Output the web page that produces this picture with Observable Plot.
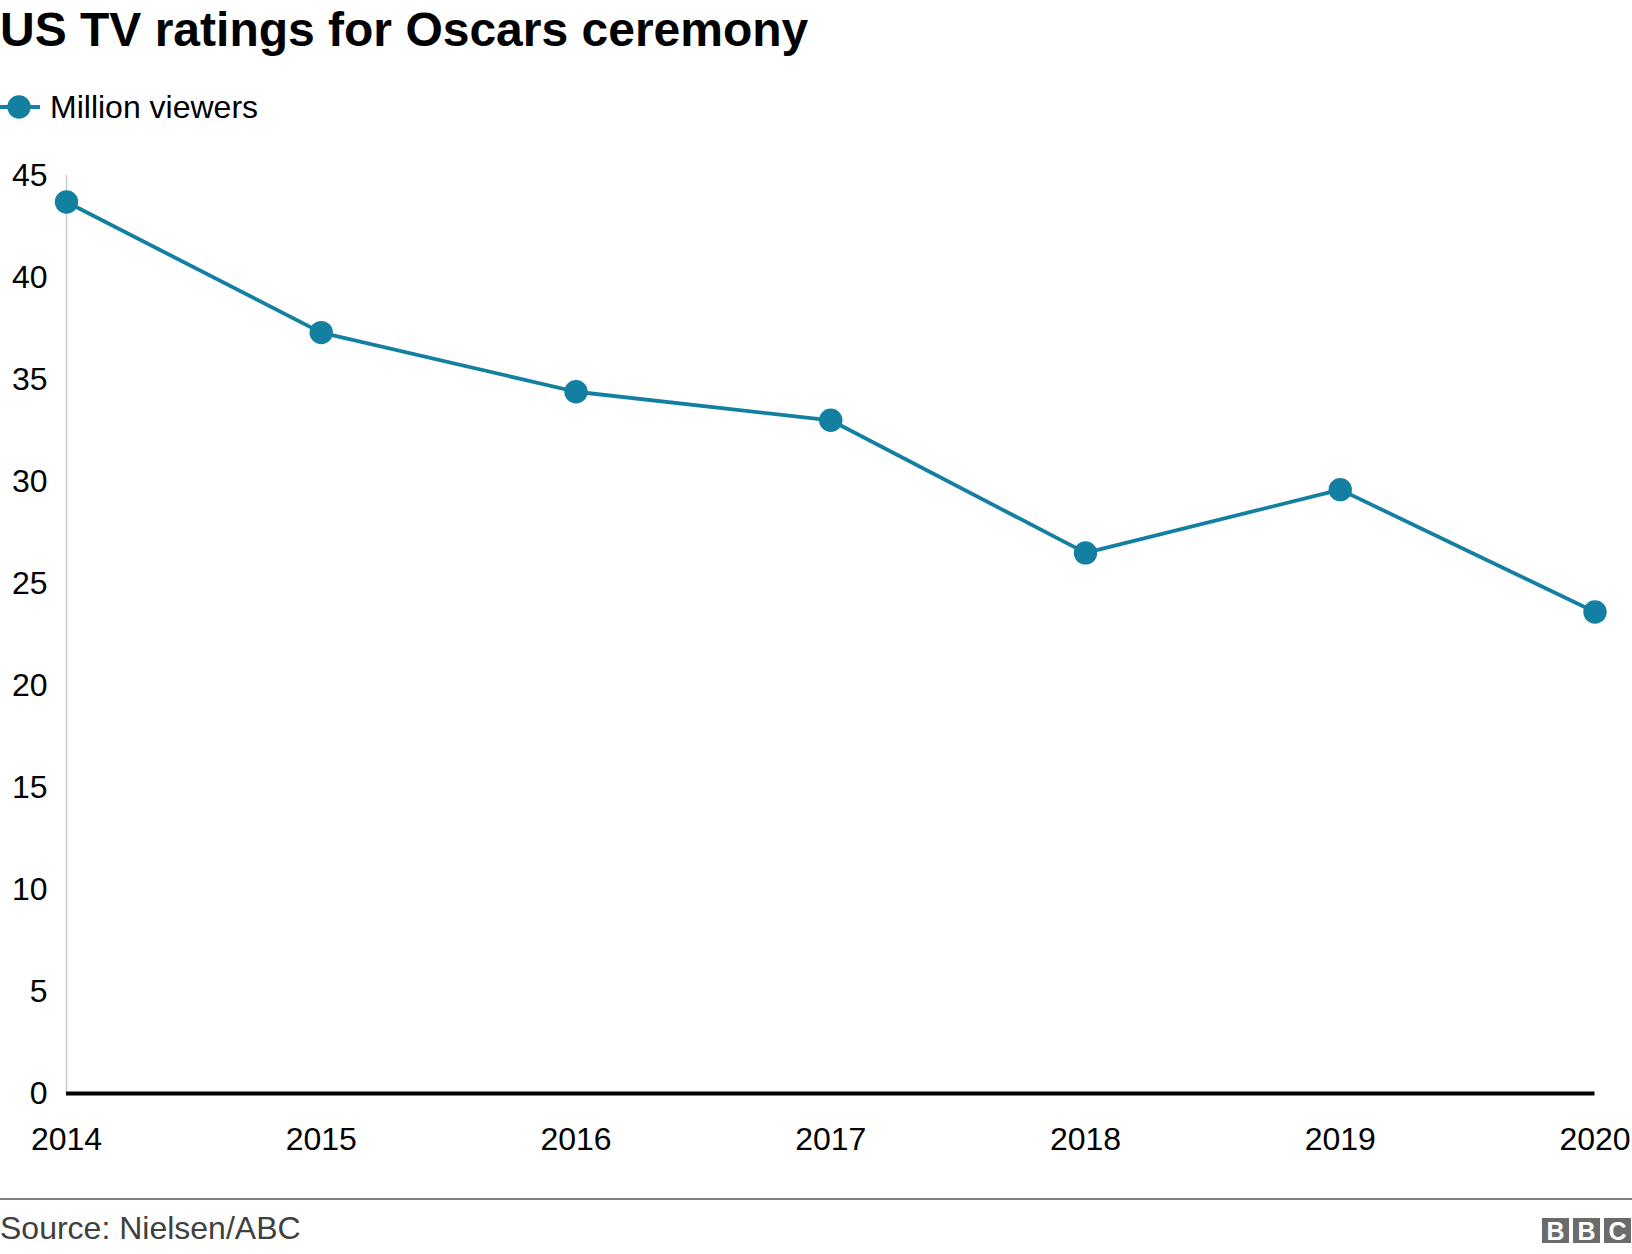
<!DOCTYPE html>
<html>
<head>
<meta charset="utf-8">
<script src="https://cdn.jsdelivr.net/npm/d3@7"></script>
<script src="https://cdn.jsdelivr.net/npm/@observablehq/plot@0.6"></script>
<style>
  html, body { margin: 0; padding: 0; background: #fff; }
  body { width: 1632px; height: 1254px; position: relative; overflow: hidden; font-family: "Liberation Sans", Arial, sans-serif; color: #000; }
  #title { position: absolute; left: 0; top: 6px; font-size: 48px; line-height: 48px; font-weight: bold; white-space: nowrap; }
  #legend { position: absolute; left: 0; top: 91px; height: 32px; font-size: 32px; line-height: 32px; white-space: nowrap; }
  #legend svg { position: absolute; left: 0; top: 0; }
  #legend span { position: absolute; left: 50px; top: 0; }
  #chart { position: absolute; left: 0; top: 150px; }
  #rule { position: absolute; left: 0; top: 1198px; width: 1632px; height: 2px; background: #808080; }
  #source { position: absolute; left: 0; top: 1212px; font-size: 32px; line-height: 32px; color: #404040; white-space: nowrap; }
  #bbc { position: absolute; left: 1542px; top: 1218px; display: flex; gap: 4px; }
  #bbc div { width: 27px; height: 25px; background: #6b6b6b; color: #fff; font-weight: bold; font-size: 25px; line-height: 26px; text-align: center; }
</style>
</head>
<body>
<div id="title">US TV ratings for Oscars ceremony</div>
<div id="legend">
  <svg width="44" height="32"><line x1="0" y1="16" x2="40" y2="16" stroke="#1380A1" stroke-width="3.8"/><circle cx="19" cy="16" r="11.7" fill="#1380A1"/></svg>
  <span>Million viewers</span>
</div>
<div id="chart"></div>
<div id="rule"></div>
<div id="source">Source: Nielsen/ABC</div>
<div id="bbc"><div>B</div><div>B</div><div>C</div></div>
<script>
const years = [2014, 2015, 2016, 2017, 2018, 2019, 2020];
const viewers = [43.7, 37.3, 34.4, 33.0, 26.5, 29.6, 23.6];
const yTicks = [0, 5, 10, 15, 20, 25, 30, 35, 40, 45];
const lineColor = "#1380A1";

const data = years.map((year, i) => ({year, value: viewers[i]}));

const plot = Plot.plot({
  width: 1632,
  height: 1025,
  marginTop: 25,
  marginBottom: 82,
  marginLeft: 66,
  marginRight: 37.5,
  style: {fontFamily: "'Liberation Sans', Arial, sans-serif", fontSize: "32px", color: "#000", background: "transparent"},
  x: {domain: [2014, 2020], ticks: years, tickFormat: d => String(d), tickSize: 0, tickPadding: 34, label: null},
  y: {domain: [0, 45], ticks: yTicks, tickSize: 0, tickPadding: 19, label: null},
  marks: [
    Plot.ruleX([2014], {y1: 0, y2: 45, stroke: "#cccccc", strokeWidth: 1.5}),
    Plot.ruleY([0], {stroke: "#000", strokeWidth: 4}),
    Plot.line(data, {x: "year", y: "value", stroke: lineColor, strokeWidth: 3.8}),
    Plot.dot(data, {x: "year", y: "value", r: 11.7, fill: lineColor, stroke: null})
  ]
});
document.getElementById("chart").appendChild(plot);
</script>
</body>
</html>
